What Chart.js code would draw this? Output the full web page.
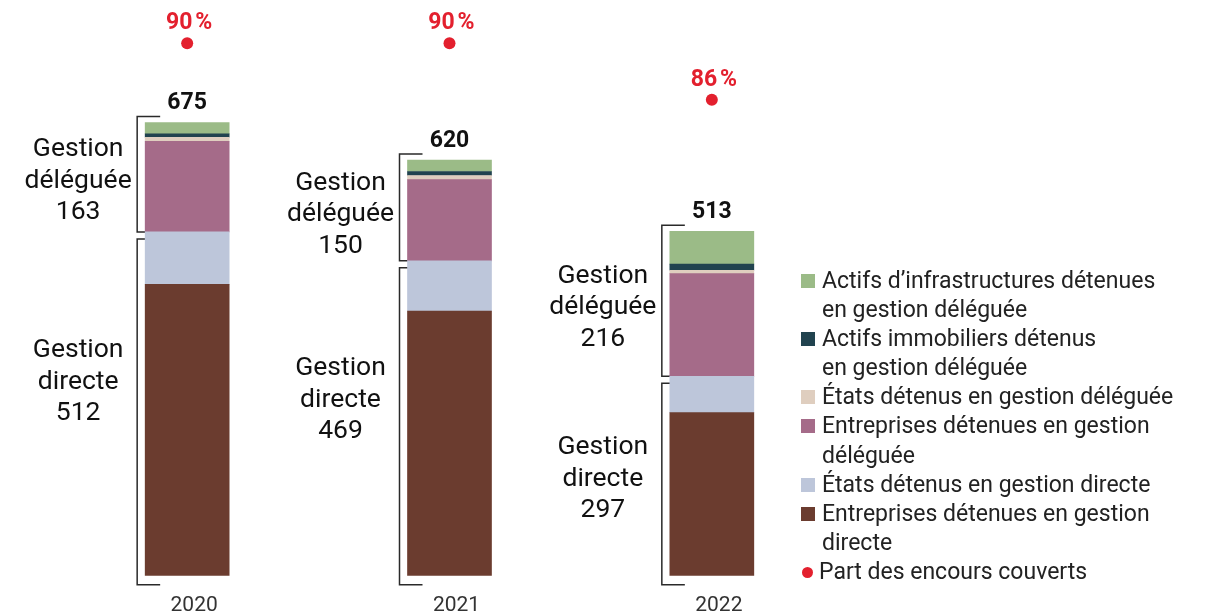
<!DOCTYPE html>
<html>
<head>
<meta charset="utf-8">
<script src="https://cdn.jsdelivr.net/npm/chart.js@4.4.0/dist/chart.umd.min.js"></script>
<style>
  html, body { margin: 0; padding: 0; background: #fff; }
  #wrap { position: relative; width: 1209px; height: 616px; }
  #legend { position: absolute; left: 801px; top: 266px; font: 23px Roboto, sans-serif; line-height: 29.1px; color: #222; }
  .item { display: flex; align-items: flex-start; }
  .sw { width: 14px; height: 14px; margin-top: 8px; margin-right: 7px; flex: none; }
  .dot { width: 11px; height: 11px; border-radius: 50%; margin-top: 10px; margin-left: 1px; margin-right: 6px; flex: none; }
</style>
</head>
<body>
<div id="wrap">
  <canvas id="chart" width="1209" height="616"></canvas>
  <div id="legend"></div>
</div>
<script>
// data (stack order: bottom -> top)
const years = ['2020', '2021', '2022'];
const entreprisesDirecte = [434, 394, 243];
const etatsDirecte = [78, 75, 54];
const entreprisesDeleguee = [135, 121, 153];
const etatsDeleguee = [6, 6, 5];
const immobiliersDeleguee = [5, 6, 9];
const infraDeleguee = [17, 17, 49];
const partCouverte = [90, 90, 86];
const totals = [675, 620, 513];
const totalDirecte = [512, 469, 297];
const totalDeleguee = [163, 150, 216];

const RED = '#e3202e';

function bar(label, data, color) {
    return { label: label, data: data, backgroundColor: color, stack: 's', yAxisID: 'y', barThickness: 84 };
}

const datasets = [
    bar('Entreprises détenues en gestion\ndirecte', entreprisesDirecte, '#6b3c2f'),
    bar('États détenus en gestion directe', etatsDirecte, '#bdc6da'),
    bar('Entreprises détenues en gestion\ndéléguée', entreprisesDeleguee, '#a56b89'),
    bar('États détenus en gestion déléguée', etatsDeleguee, '#dfcebf'),
    bar('Actifs immobiliers détenus\nen gestion déléguée', immobiliersDeleguee, '#21434f'),
    bar('Actifs d’infrastructures détenues\nen gestion déléguée', infraDeleguee, '#9bbb87'),
    {
        type: 'line', label: 'Part des encours couverts', data: partCouverte, yAxisID: 'y1',
        showLine: false, pointRadius: 6, pointHoverRadius: 6,
        backgroundColor: RED, borderColor: RED, pointBorderWidth: 0
    }
];

// brackets, totals, side labels and percentages
const annotations = {
    id: 'annotations',
    beforeDatasetsDraw(chart) {
        const ctx = chart.ctx;
        const bottomMeta = chart.getDatasetMeta(0).data;
        const splitMeta = chart.getDatasetMeta(1).data;
        const topMeta = chart.getDatasetMeta(5).data;
        ctx.save();
        ctx.strokeStyle = '#2a2a2a';
        ctx.lineWidth = 1.5;
        years.forEach((y, i) => {
            const b = bottomMeta[i];
            const left = b.x - b.width / 2;
            const bx = left - 8;
            const top = topMeta[i].y;
            const split = splitMeta[i].y;
            const bottom = b.base;
            // déléguée bracket
            ctx.beginPath();
            ctx.moveTo(bx + 23, top - 6);
            ctx.lineTo(bx, top - 6);
            ctx.lineTo(bx, split);
            ctx.lineTo(bx + 23, split);
            ctx.stroke();
            // directe bracket
            ctx.beginPath();
            ctx.moveTo(bx + 23, split + 7);
            ctx.lineTo(bx, split + 7);
            ctx.lineTo(bx, bottom + 9);
            ctx.lineTo(bx + 23, bottom + 9);
            ctx.stroke();
        });
        ctx.restore();
    },
    afterDatasetsDraw(chart) {
        const ctx = chart.ctx;
        const bottomMeta = chart.getDatasetMeta(0).data;
        const splitMeta = chart.getDatasetMeta(1).data;
        const topMeta = chart.getDatasetMeta(5).data;
        const dots = chart.getDatasetMeta(6).data;
        const directeNudge = [-26, -22, -1];
        ctx.save();
        ctx.textAlign = 'center';
        years.forEach((y, i) => {
            const b = bottomMeta[i];
            const left = b.x - b.width / 2;
            const top = topMeta[i].y;
            const split = splitMeta[i].y;
            const bottom = b.base;

            // total
            ctx.fillStyle = '#111';
            ctx.font = 'bold 23px Roboto';
            ctx.textBaseline = 'alphabetic';
            ctx.fillText(String(totals[i]), b.x, top - 13);

            // percentage
            ctx.fillStyle = RED;
            ctx.font = 'bold 23px Roboto';
            ctx.fillText(partCouverte[i] + '\u202F%', dots[i].x + 2, dots[i].y - 14);

            // side labels
            ctx.fillStyle = '#111';
            ctx.font = '26.5px Roboto';
            ctx.textBaseline = 'middle';
            const cx = left - 67;
            const lh = 31.5;
            const dMid = (top + split) / 2 + 4;
            ['Gestion', 'déléguée', String(totalDeleguee[i])].forEach((t, k) => {
                ctx.fillText(t, cx, dMid + (k - 1) * lh);
            });
            const gMid = (split + bottom) / 2 + 4 + directeNudge[i];
            ['Gestion', 'directe', String(totalDirecte[i])].forEach((t, k) => {
                ctx.fillText(t, cx, gMid + (k - 1) * lh);
            });
        });
        ctx.restore();
    }
};

const config = {
    type: 'bar',
    data: { labels: years, datasets: datasets },
    options: {
        responsive: false,
        animation: false,
        layout: { padding: { left: 56, right: 366, top: 10, bottom: -19 } },
        scales: {
            x: {
                stacked: true,
                grid: { display: false, drawTicks: false },
                border: { display: false },
                ticks: { color: '#333', font: { family: 'Roboto', size: 21 }, padding: 17, labelOffset: 7 }
            },
            y: { stacked: true, display: false, min: 0, max: 842.5 },
            y1: { display: false, min: 52.34, max: 92.35 }
        },
        plugins: { legend: { display: false }, tooltip: { enabled: false } }
    },
    plugins: [annotations]
};

const myChart = new Chart(document.getElementById('chart'), config);

// html legend, top of stack first
function buildLegend() {
    let html = '';
    for (let i = 5; i >= 0; i--) {
        const ds = myChart.data.datasets[i];
        html += `<div class="item"><span class="sw" style="background:${ds.backgroundColor}"></span><span>${ds.label.replace('\n', '<br>')}</span></div>`;
    }
    const pt = myChart.data.datasets[6];
    html += `<div class="item"><span class="dot" style="background:${pt.backgroundColor}"></span><span>${pt.label}</span></div>`;
    document.getElementById('legend').innerHTML = html;
}
buildLegend();
</script>
</body>
</html>
